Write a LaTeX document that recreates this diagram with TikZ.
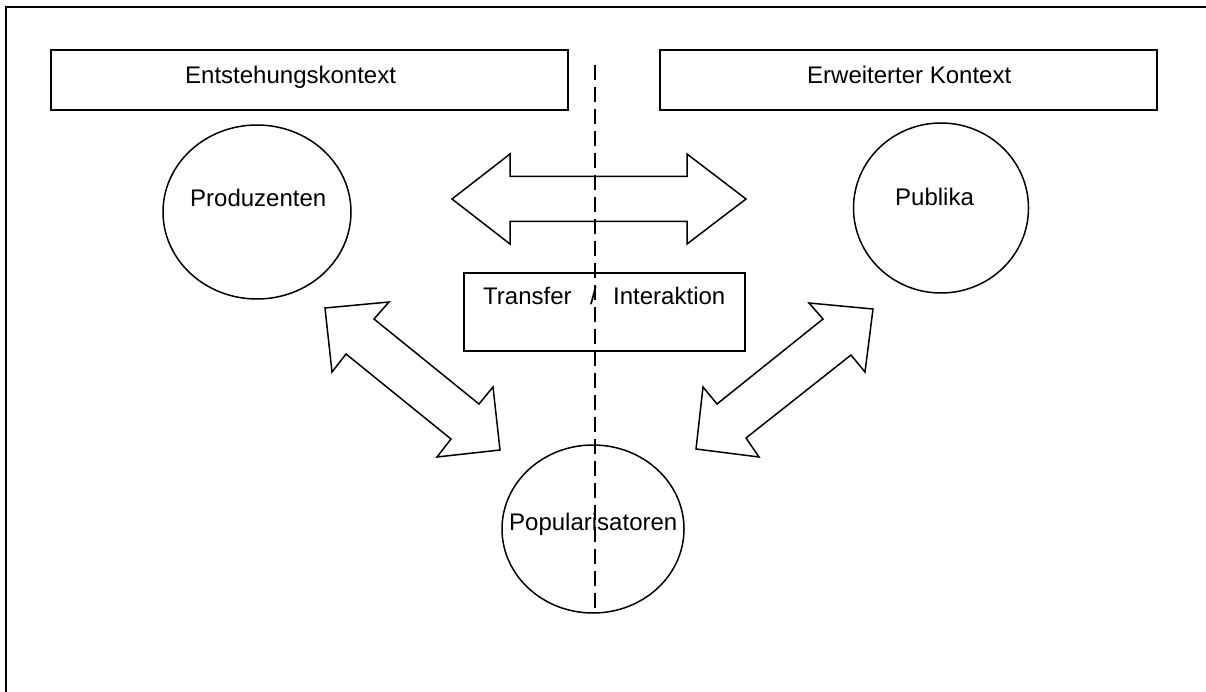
\documentclass[tikz,border=0pt]{standalone}
\usepackage{fontspec}
\setmainfont{Liberation Sans}
\usetikzlibrary{shapes.geometric}
\tikzset{
  outline/.style={draw=black, line width=1.5pt, line join=miter},
  txt/.style={inner sep=0pt, anchor=base west, font=\fontsize{24}{29}\selectfont},
  oval/.style={outline, ellipse, inner sep=0pt},
  frame box/.style={outline, rectangle, inner sep=0pt},
  divider/.style={draw=black, line width=2pt, dash pattern=on 15pt off 7pt},
}
\begin{document}
\begin{tikzpicture}[x=1pt,y=-1pt]
\useasboundingbox (0,0) rectangle (1206,692);

% outer frame (top and left edges)
\coordinate (fbl) at (6,692);
\coordinate (ftl) at (6,7);
\coordinate (ftr) at (1206,7);
\draw[outline] (fbl) -- (ftl) -- (ftr);

% context headers
\node[frame box, minimum width=517pt, minimum height=60pt] (ctxA) at (309.5,80) {};
\node[frame box, minimum width=497pt, minimum height=60pt] (ctxB) at (908.5,80) {};
\node[txt] (ctxAt) at (185,84) {Entstehungskontext};
\node[txt] (ctxBt) at (807,84) {Erweiterter Kontext};

% actors
\node[oval, minimum width=188pt, minimum height=174pt] (prod) at (257,212) {};
\node[oval, minimum width=175pt, minimum height=170pt] (pub) at (941,208) {};
\node[oval, minimum width=182pt, minimum height=168pt] (popu) at (593,529) {};
\node[txt] (prodt) at (190,207) {Produzenten};
\node[txt] (pubt) at (895,206) {Publika};
\node[txt] (poput) at (509,530) {Popularisatoren};

% transfer / interaction box
\node[frame box, minimum width=281pt, minimum height=78pt] (tbox) at (604.5,312) {};
\node[txt] (tA) at (483,305) {Transfer};
\node[txt] (tS) at (590,305) {/};
\node[txt] (tB) at (613,305) {Interaktion};

% block arrows
\draw[outline] (452,199) -- (510,154) -- (510,176.5) -- (687,176.5) -- (687,154)
  -- (746,199) -- (687,244) -- (687,221.5) -- (510,221.5) -- (510,244) -- cycle;
\draw[outline] (325,308) -- (389,302) -- (374,319) -- (479,404) -- (493,387)
  -- (500,450) -- (437,457) -- (451,439) -- (346,354) -- (332,372) -- cycle;
\draw[outline] (873,309) -- (809,303) -- (823,319) -- (717,404) -- (703,387)
  -- (696,449) -- (759,457) -- (746,438) -- (851,355) -- (865,372) -- cycle;

% dividing line between the two contexts
\coordinate (divtop) at (595,65);
\coordinate (divbot) at (595,608);
\draw[divider] (divtop) -- (divbot);
\end{tikzpicture}
\end{document}
